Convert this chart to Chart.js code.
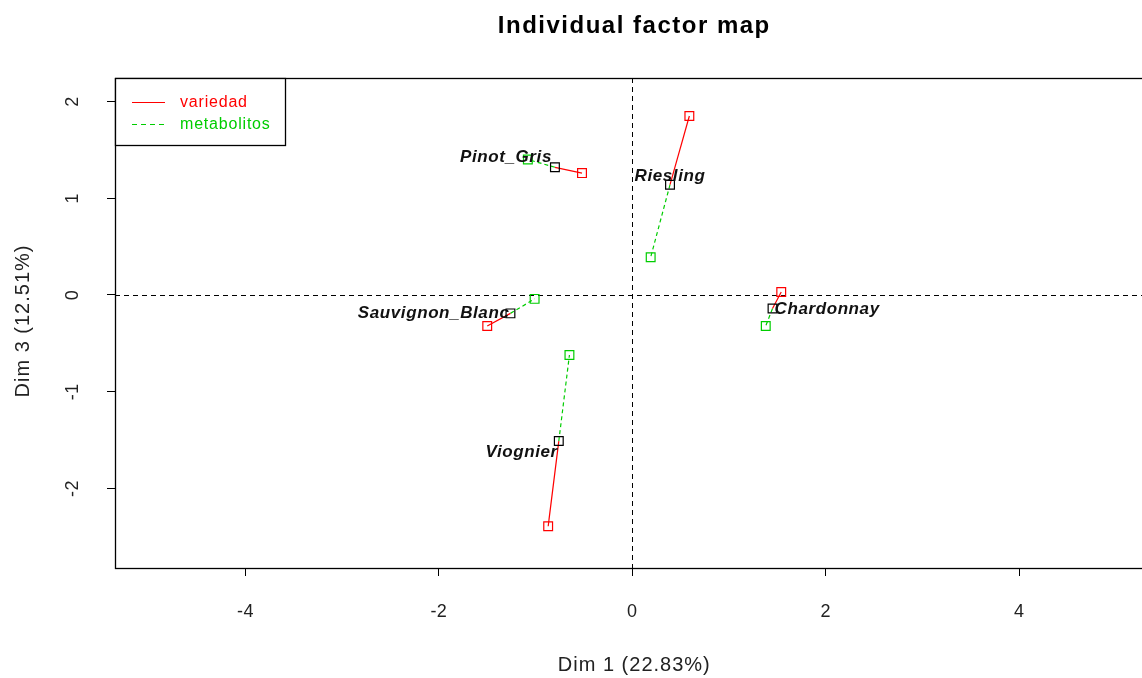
<!DOCTYPE html>
<html>
<head>
<meta charset="utf-8">
<script src="https://cdn.jsdelivr.net/npm/chart.js@4/dist/chart.umd.min.js"></script>
<style>
html,body{margin:0;padding:0;background:#fff;overflow:hidden;}
#wrap{width:1157px;height:678px;}
</style>
</head>
<body>
<div id="wrap"><canvas id="c" width="1157" height="678"></canvas></div>
<script>
// ---- data ----
const wines = ['Pinot_Gris','Riesling','Sauvignon_Blanc','Chardonnay','Viognier'];
const meanX = [-0.80, 0.39, -1.26, 1.45, -0.76];
const meanY = [1.32, 1.14, -0.19, -0.14, -1.51];
const variedadX = [-0.52, 0.59, -1.50, 1.54, -0.87];
const variedadY = [1.26, 1.85, -0.32, 0.03, -2.39];
const metabolitosX = [-1.08, 0.19, -1.01, 1.38, -0.65];
const metabolitosY = [1.40, 0.39, -0.04, -0.32, -0.62];
const xTicks = [-4, -2, 0, 2, 4];
const yTicks = [-2, -1, 0, 1, 2];
const groupNames = ['variedad', 'metabolitos'];
const titleText = 'Individual factor map';
const xTitle = 'Dim 1 (22.83%)';
const yTitle = 'Dim 3 (12.51%)';

// ---- styles (label placement relative to the point) ----
const labelPlace = {
  Pinot_Gris: {align:'right', dx:-3, dy:-10},
  Riesling: {align:'center', dx:0, dy:-8},
  Sauvignon_Blanc: {align:'right', dx:-1, dy:0},
  Chardonnay: {align:'left', dx:2, dy:1},
  Viognier: {align:'right', dx:-1, dy:11}
};
const RED = '#FF0000', GREEN = '#00CD00';
const FONT = '"Liberation Sans", Arial, sans-serif';
const MARK = 6.2;

const datasets = [];
wines.forEach((w, i) => {
  datasets.push({type:'scatter', showLine:true, borderColor:RED, borderWidth:1.2, pointRadius:0,
    data:[{x:meanX[i], y:meanY[i]}, {x:variedadX[i], y:variedadY[i]}], order:5});
  datasets.push({type:'scatter', showLine:true, borderColor:GREEN, borderWidth:1.2, borderDash:[4,3], pointRadius:0,
    data:[{x:meanX[i], y:meanY[i]}, {x:metabolitosX[i], y:metabolitosY[i]}], order:5});
});
const pt = (xs, ys) => xs.map((v, i) => ({x:v, y:ys[i]}));
datasets.push({type:'scatter', data:pt(variedadX, variedadY), pointStyle:'rect', pointRadius:MARK,
  borderColor:RED, backgroundColor:'rgba(0,0,0,0)', borderWidth:1.2, order:2});
datasets.push({type:'scatter', data:pt(metabolitosX, metabolitosY), pointStyle:'rect', pointRadius:MARK,
  borderColor:GREEN, backgroundColor:'rgba(0,0,0,0)', borderWidth:1.2, order:2});
datasets.push({type:'scatter', data:pt(meanX, meanY), pointStyle:'rect', pointRadius:MARK,
  borderColor:'#000', backgroundColor:'rgba(0,0,0,0)', borderWidth:1.2, order:1});

function setSpacing(ctx, v) { if ('letterSpacing' in ctx) ctx.letterSpacing = v; }

const decor = {
  id:'decor',
  beforeDatasetsDraw(chart) {
    const {ctx, chartArea:a, scales:{x, y}} = chart;
    ctx.save();
    ctx.strokeStyle = '#000'; ctx.lineWidth = 1; ctx.setLineDash([5,4]);
    const x0 = Math.round(x.getPixelForValue(0)) + 0.5;
    const y0 = Math.round(y.getPixelForValue(0)) + 0.5;
    ctx.beginPath(); ctx.moveTo(x0, a.top); ctx.lineTo(x0, a.bottom); ctx.stroke();
    ctx.beginPath(); ctx.moveTo(a.left, y0); ctx.lineTo(a.right, y0); ctx.stroke();
    ctx.restore();
  },
  afterDatasetsDraw(chart) {
    const {ctx, chartArea:a, scales:{x, y}} = chart;
    const cx = x.getPixelForValue(0);
    ctx.save();
    // labels
    ctx.fillStyle = '#111';
    ctx.font = 'italic bold 17px ' + FONT;
    setSpacing(ctx, '0.6px');
    ctx.textBaseline = 'middle';
    wines.forEach((w, i) => {
      const p = labelPlace[w];
      ctx.textAlign = p.align;
      ctx.fillText(w, x.getPixelForValue(meanX[i]) + p.dx, y.getPixelForValue(meanY[i]) + p.dy);
    });
    // box
    setSpacing(ctx, '0px');
    ctx.strokeStyle = '#000'; ctx.lineWidth = 1.3; ctx.setLineDash([]);
    ctx.strokeRect(a.left + 0.5, a.top + 0.5, a.right - a.left + 2, a.bottom - a.top);
    // legend
    const lx = a.left, ly = a.top;
    ctx.fillStyle = '#fff';
    ctx.fillRect(lx, ly, 170, 67);
    ctx.strokeRect(lx + 0.5, ly + 0.5, 170, 67);
    ctx.lineWidth = 1.2;
    ctx.strokeStyle = RED;
    ctx.beginPath(); ctx.moveTo(lx + 17, ly + 24.5); ctx.lineTo(lx + 50, ly + 24.5); ctx.stroke();
    ctx.strokeStyle = GREEN; ctx.setLineDash([5,4]);
    ctx.beginPath(); ctx.moveTo(lx + 17, ly + 46.5); ctx.lineTo(lx + 50, ly + 46.5); ctx.stroke();
    ctx.setLineDash([]);
    ctx.font = '16px ' + FONT; ctx.textAlign = 'left'; ctx.textBaseline = 'middle';
    setSpacing(ctx, '0.8px');
    ctx.fillStyle = RED; ctx.fillText(groupNames[0], lx + 65, ly + 25);
    ctx.fillStyle = GREEN; ctx.fillText(groupNames[1], lx + 65, ly + 47);
    // title
    ctx.fillStyle = '#000';
    ctx.font = 'bold 24px ' + FONT; ctx.textAlign = 'center'; ctx.textBaseline = 'alphabetic';
    setSpacing(ctx, '1.5px');
    ctx.fillText(titleText, cx + 2, 33);
    // axis titles
    ctx.font = '20px ' + FONT;
    setSpacing(ctx, '1px');
    ctx.fillStyle = '#222';
    ctx.textBaseline = 'middle';
    ctx.fillText(xTitle, cx + 2, 665);
    ctx.save();
    ctx.translate(23, 321);
    ctx.rotate(-Math.PI / 2);
    ctx.fillText(yTitle, 0, 0);
    ctx.restore();
    // tick labels
    ctx.font = '18px ' + FONT;
    setSpacing(ctx, '0.5px');
    xTicks.forEach(v => {
      ctx.fillText(String(v), x.getPixelForValue(v), 612);
    });
    yTicks.forEach(v => {
      ctx.save();
      ctx.translate(73, y.getPixelForValue(v));
      ctx.rotate(-Math.PI / 2);
      ctx.fillText(String(v), 0, 0);
      ctx.restore();
    });
    ctx.restore();
  }
};

new Chart(document.getElementById('c'), {
  data: {datasets},
  options: {
    responsive:false, animation:false, devicePixelRatio:1,
    layout:{padding:{top:78, left:0, right:0, bottom:0}},
    plugins:{legend:{display:false}, tooltip:{enabled:false}, title:{display:false}},
    scales:{
      x:{type:'linear', min:-5.349, max:5.349,
        afterBuildTicks(s){ s.ticks = xTicks.map(v => ({value:v})); },
        afterFit(s){ s.height = 110; },
        border:{display:false},
        grid:{drawOnChartArea:false, drawTicks:true, tickLength:8, color:'#000', lineWidth:1},
        ticks:{display:false}
      },
      y:{type:'linear', min:-2.822, max:2.243,
        afterBuildTicks(s){ s.ticks = yTicks.map(v => ({value:v})); },
        afterFit(s){ s.width = 115; },
        border:{display:false},
        grid:{drawOnChartArea:false, drawTicks:true, tickLength:8, color:'#000', lineWidth:1},
        ticks:{display:false}
      }
    }
  },
  plugins:[decor]
});
</script>
</body>
</html>
